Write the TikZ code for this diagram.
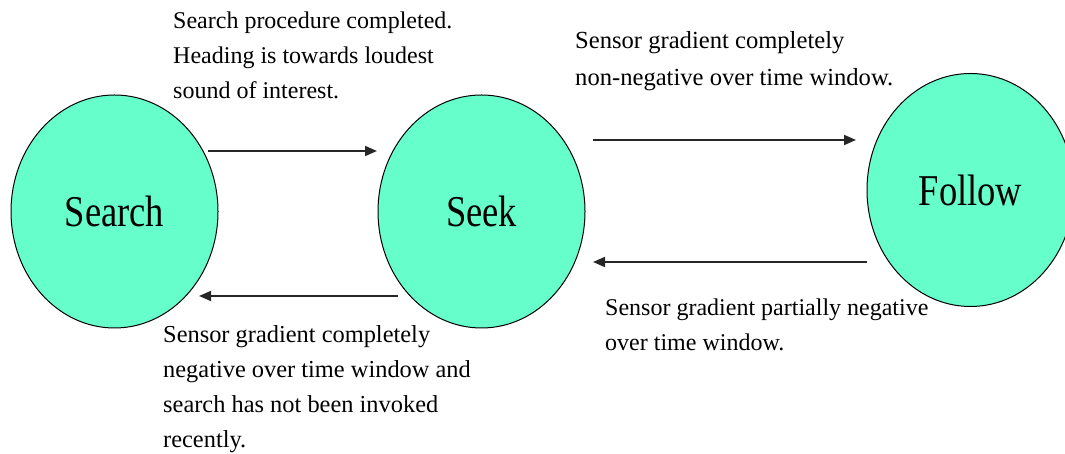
\documentclass[tikz,border=0pt]{standalone}
\usepackage{fontspec}
\usepackage{graphicx}
\setmainfont{Liberation Serif}
\usetikzlibrary{shapes.geometric,arrows.meta}
\definecolor{statefill}{RGB}{102,255,204}
\begin{document}
\begin{tikzpicture}[x=1pt,y=1pt,
  state/.style={ellipse, draw=black, line width=1pt, fill=statefill,
    minimum width=207pt, minimum height=233pt, inner sep=0pt,
    font=\fontsize{44}{50}\selectfont},
  lbl/.style={anchor=north west, inner sep=0pt, align=left,
    font=\fontsize{24}{35}\selectfont},
  arr/.style={-{Triangle[length=12pt,width=10pt]}, line width=1.8pt, draw=black!85}]
\useasboundingbox (0,0) rectangle (1065,454);
\node[state] (search) at (114.5,242.5) {\scalebox{0.83}[1]{Search}};
\node[state] (seek) at (481.5,242.5) {\scalebox{0.83}[1]{Seek}};
\node[state] (follow) at (970.5,264) {\scalebox{0.83}[1]{Follow}};
\draw[arr] ([shift={(93.5,60.5)}]search.center) -- ([shift={(-104.5,60.5)}]seek.center);
\draw[arr] ([shift={(-83.5,-84.5)}]seek.center) -- ([shift={(84.5,-84.5)}]search.center);
\draw[arr] ([shift={(111.5,71.5)}]seek.center) -- ([shift={(-114.5,50)}]follow.center);
\draw[arr] ([shift={(-103.5,-72)}]follow.center) -- ([shift={(111.5,-50.5)}]seek.center);
\node[lbl] (t1) at (173,442.5) {Search procedure completed.\\Heading is towards loudest\\sound of interest.};
\node[lbl, font=\fontsize{24.6}{37}\selectfont] (t2) at (575,422.5) {Sensor gradient completely\\non-negative over time window.};
\node[lbl, font=\fontsize{24.4}{35}\selectfont] (t3) at (163,128.5) {Sensor gradient completely\\negative over time window and\\search has not been invoked\\recently.};
\node[lbl] (t4) at (605,155.5) {Sensor gradient partially negative\\over time window.};
\end{tikzpicture}
\end{document}
